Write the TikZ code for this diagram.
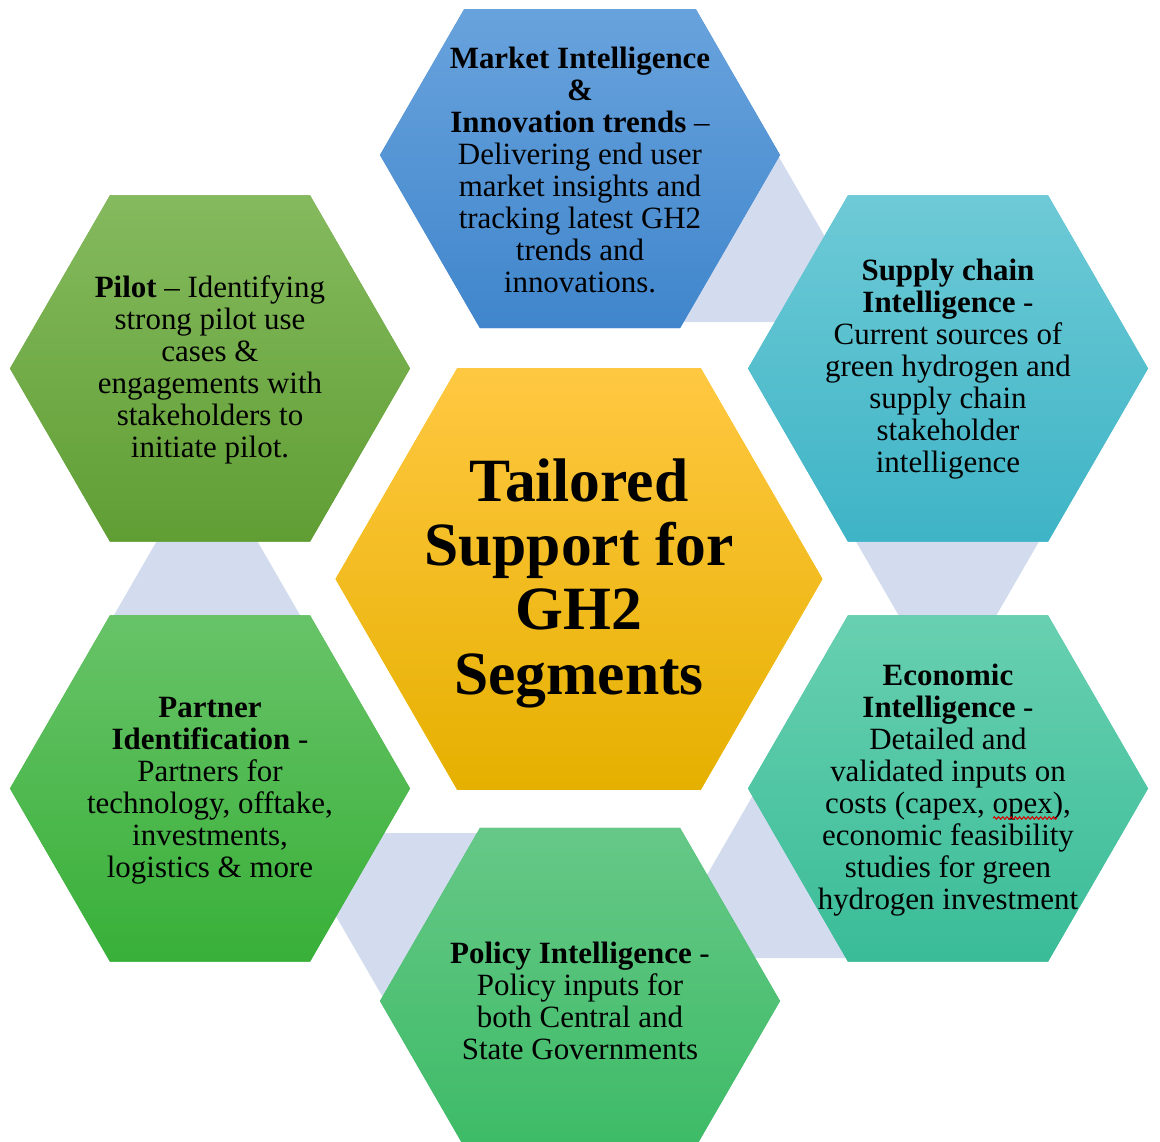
\documentclass[tikz,border=0pt]{standalone}
\usepackage{fontspec}
\setmainfont{Liberation Serif}
\usetikzlibrary{decorations.pathmorphing}

\definecolor{linkgray}{RGB}{210,220,238}
\definecolor{blueTop}{RGB}{108,165,222}
\definecolor{blueBot}{RGB}{64,134,204}
\definecolor{cyanTop}{RGB}{110,202,214}
\definecolor{cyanBot}{RGB}{62,180,198}
\definecolor{tealTop}{RGB}{104,208,176}
\definecolor{tealBot}{RGB}{58,188,152}
\definecolor{leafTop}{RGB}{102,200,135}
\definecolor{leafBot}{RGB}{58,186,100}
\definecolor{grassTop}{RGB}{104,195,104}
\definecolor{grassBot}{RGB}{56,176,56}
\definecolor{oliveTop}{RGB}{133,186,94}
\definecolor{oliveBot}{RGB}{96,158,52}
\definecolor{sunTop}{RGB}{255,200,66}
\definecolor{sunMid}{RGB}{255,193,5}
\definecolor{sunBot}{RGB}{230,176,0}

\begin{document}
\begin{tikzpicture}[
            x = 0.01cm, y = -0.01cm, % one unit per pixel, y going down
            link/.style = {fill = linkgray},
            info/.style = {align = center, inner sep = 0pt,
                font = \fontsize{8.8}{9.1}\selectfont},
            core/.style = {align = center, inner sep = 0pt,
                font = \bfseries\fontsize{17.5}{18.3}\selectfont},
            spell/.style = {draw = red!85!black, line width = 0.3pt, decorate,
                decoration = {snake, amplitude = 0.35pt, segment length = 1.2pt}}
        ]

        \useasboundingbox (0,0) rectangle (1160,1142);
        \clip (0,9) rectangle (1160,1142);

        % pale triangles between the outer cells (apex, up/down, height)
        \foreach \ax/\ay/\s/\h in {776/152/1/170, 947.5/700/-1/170, 756/790/1/168,
                387/1004.5/-1/171.5, 207/454/1/170}
            \fill[link] (\ax,\ay) -- ++({\h/sqrt(3)},{\h*\s}) -- ++({-2*\h/sqrt(3)},0) -- cycle;

        % outer cells
        \foreach \cx/\cy/\ctop/\cbot in {580/155/blueTop/blueBot,
                948/368.5/cyanTop/cyanBot, 948/788.5/tealTop/tealBot,
                580/1001/leafTop/leafBot, 210/788.5/grassTop/grassBot,
                210/368.5/oliveTop/oliveBot}
            \path[fill = \cbot, top color = \ctop, bottom color = \cbot, shift = {(\cx,\cy)}]
                (0:200) -- (60:200) -- (120:200) -- (180:200) -- (240:200) -- (300:200) -- cycle;

        % centre cell
        \path[fill = sunMid, top color = sunTop, middle color = sunMid, bottom color = sunBot,
                shift = {(579,579)}]
            (0:243.5) -- (60:243.5) -- (120:243.5) -- (180:243.5) -- (240:243.5) -- (300:243.5) -- cycle;

        \node[core] (core) at (579,583) {Tailored\\Support for\\GH2\\Segments};

        \node[info] (market) at (580,169.5) {\textbf{Market Intelligence}\\\textbf{\&}\\
            \textbf{Innovation trends} --\\Delivering end user\\market insights and\\
            tracking latest GH2\\trends and\\innovations.};
        \node[info] (supply) at (948,369) {\textbf{Supply chain}\\\textbf{Intelligence} -\\
            Current sources of\\green hydrogen and\\supply chain\\stakeholder\\intelligence};
        \node[info] (economic) at (948,790) {\textbf{Economic}\\\textbf{Intelligence} -\\
            Detailed and\\validated inputs on\\costs (capex, opex),\\economic feasibility\\
            studies for green\\hydrogen investment};
        \node[info] (policy) at (580,1000.5) {\textbf{Policy Intelligence} -\\
            Policy inputs for\\both Central and\\State Governments};
        \node[info] (partner) at (210,791) {\textbf{Partner}\\\textbf{Identification} -\\
            Partners for\\technology, offtake,\\investments,\\logistics \& more};
        \node[info] (pilot) at (210,370) {\textbf{Pilot} -- Identifying\\strong pilot use\\
            cases \&\\engagements with\\stakeholders to\\initiate pilot.};

        \draw[spell] (993,818) -- (1057,818);

    \end{tikzpicture}
\end{document}
